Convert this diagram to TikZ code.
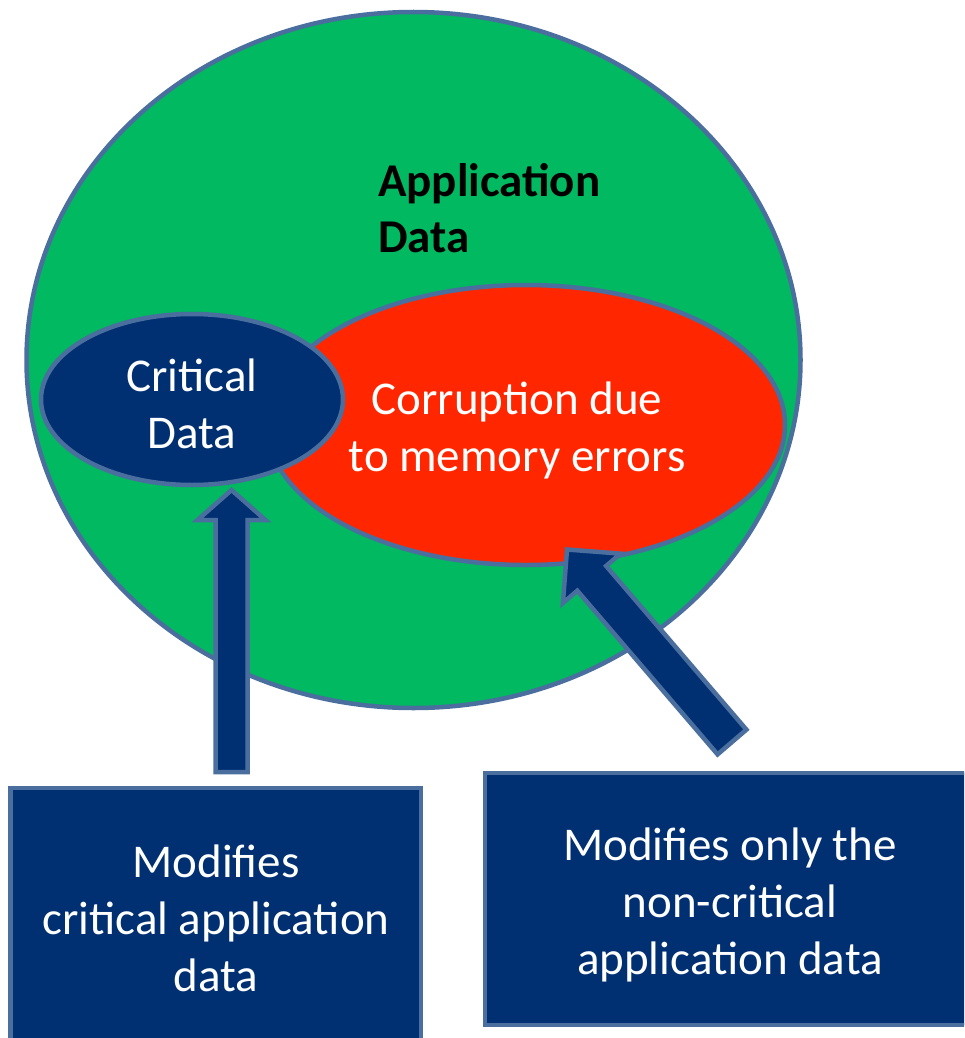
\documentclass[tikz,border=0pt]{standalone}
\usepackage{fontspec}
\setmainfont{Carlito}
\usetikzlibrary{shapes.geometric,calc}
\definecolor{appgreen}{HTML}{00B960}
\definecolor{corrred}{HTML}{FF2600}
\definecolor{navyfill}{HTML}{003072}
\definecolor{edgeblue}{HTML}{4A6E9E}
\newcommand\blockarr[5]{%
  \coordinate (ah) at ($(#2)!#5!(#1)$);
  \draw[blockarrow] (#2) -- ($(ah)!#4!90:(#1)$) -- ($(ah)!#3!90:(#1)$)
    -- ($(#1)!#3!-90:(ah)$) -- ($(#1)!#3!90:(ah)$)
    -- ($(ah)!#3!-90:(#1)$) -- ($(ah)!#4!-90:(#1)$) -- cycle;}
\begin{document}
\begin{tikzpicture}[x=1pt,y=-1pt,
  edgeline/.style={draw=edgeblue,line width=4.5pt},
  blob/.style={ellipse,edgeline,inner sep=0pt,outer sep=0pt},
  labeltext/.style={text=white,align=center,font=\fontsize{47}{57}\selectfont,inner sep=0pt},
  boxstyle/.style={rectangle,edgeline,fill=navyfill,inner sep=0pt,outer sep=0pt},
  blockarrow/.style={edgeline,fill=navyfill,line join=miter}]
\useasboundingbox (0,0) rectangle (964,1038);
\clip (0,0) rectangle (964,1038);
% ellipses
\node[blob,fill=appgreen,minimum width=774pt,minimum height=696pt] (app) at (413.5,360) {};
\node[blob,fill=corrred,minimum width=518pt,minimum height=280pt] (corr) at (526,425) {};
\node[blob,fill=navyfill,minimum width=302pt,minimum height=171pt] (crit) at (192,399.5) {};
% texts in ellipses
\node[anchor=west,align=left,inner sep=0pt,font=\bfseries\fontsize{47}{56}\selectfont] (apptitle) at (378,208) {Application\\Data};
\node[labeltext] (critlabel) at (192,403.5) {Critical\\Data};
\node[labeltext] (corrlabel) at (517,430) {Corruption due\\to memory errors};
% boxes
\node[boxstyle,minimum width=410.5pt,minimum height=260pt] (modcrit) at (215.5,918) {};
\node[boxstyle,minimum width=490pt,minimum height=252pt] (modnon) at (730,899) {};
\node[labeltext] (modcritlabel) at (216,918) {Modifies\\critical application\\data};
\node[labeltext] (modnonlabel) at (730,905) {Modifies only the\\non-critical\\application data};
% arrows
\coordinate (tailA) at (231.5,772);
\coordinate (tipA) at (231.5,490);
\coordinate (tailB) at (732,742);
\coordinate (tipB) at (567,549.5);
\blockarr{tailA}{tipA}{16pt}{34pt}{30pt}
\blockarr{tailB}{tipB}{19pt}{38pt}{38pt}
\end{tikzpicture}
\end{document}
